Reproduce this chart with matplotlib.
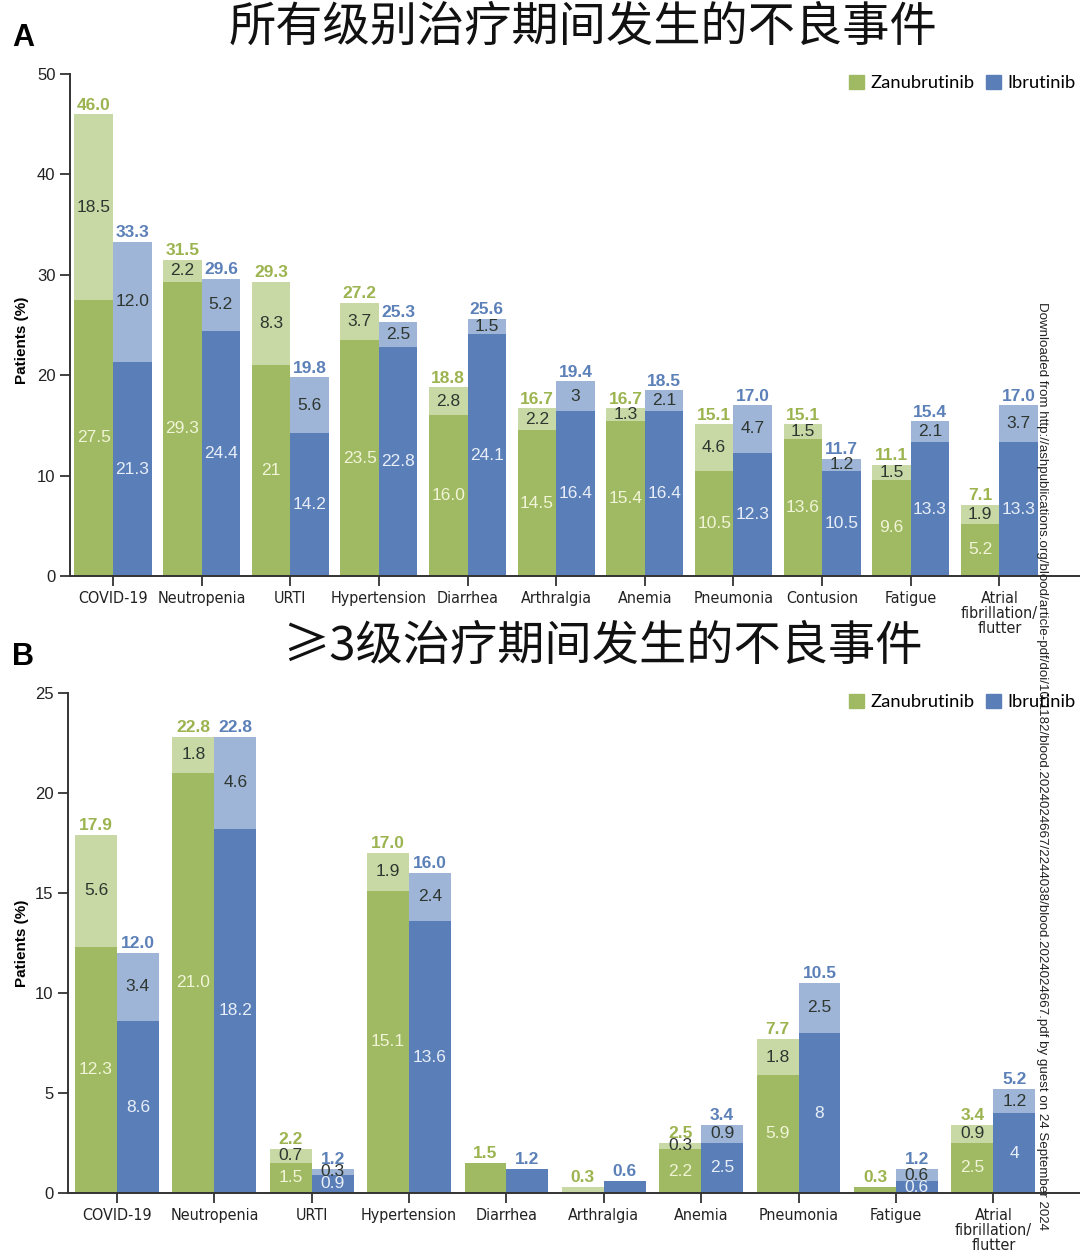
import matplotlib
matplotlib.use("Agg")
import matplotlib.pyplot as plt
from matplotlib.patches import Patch
from matplotlib import font_manager as fm

# ---------------- data ----------------
cats_A = ["COVID-19", "Neutropenia", "URTI", "Hypertension", "Diarrhea", "Arthralgia",
          "Anemia", "Pneumonia", "Contusion", "Fatigue", "Atrial\nfibrillation/\nflutter"]
zan_A_base = [27.5, 29.3, 21, 23.5, 16.0, 14.5, 15.4, 10.5, 13.6, 9.6, 5.2]
zan_A_top = [18.5, 2.2, 8.3, 3.7, 2.8, 2.2, 1.3, 4.6, 1.5, 1.5, 1.9]
zan_A_total = [46.0, 31.5, 29.3, 27.2, 18.8, 16.7, 16.7, 15.1, 15.1, 11.1, 7.1]
ibr_A_base = [21.3, 24.4, 14.2, 22.8, 24.1, 16.4, 16.4, 12.3, 10.5, 13.3, 13.3]
ibr_A_top = [12.0, 5.2, 5.6, 2.5, 1.5, 3, 2.1, 4.7, 1.2, 2.1, 3.7]
ibr_A_total = [33.3, 29.6, 19.8, 25.3, 25.6, 19.4, 18.5, 17.0, 11.7, 15.4, 17.0]

cats_B = ["COVID-19", "Neutropenia", "URTI", "Hypertension", "Diarrhea", "Arthralgia",
          "Anemia", "Pneumonia", "Fatigue", "Atrial\nfibrillation/\nflutter"]
zan_B_base = [12.3, 21.0, 1.5, 15.1, 1.5, 0, 2.2, 5.9, 0.3, 2.5]
zan_B_top = [5.6, 1.8, 0.7, 1.9, 0, 0.3, 0.3, 1.8, 0, 0.9]
zan_B_total = [17.9, 22.8, 2.2, 17.0, 1.5, 0.3, 2.5, 7.7, 0.3, 3.4]
ibr_B_base = [8.6, 18.2, 0.9, 13.6, 1.2, 0.6, 2.5, 8, 0.6, 4]
ibr_B_top = [3.4, 4.6, 0.3, 2.4, 0, 0, 0.9, 2.5, 0.6, 1.2]
ibr_B_total = [12.0, 22.8, 1.2, 16.0, 1.2, 0.6, 3.4, 10.5, 1.2, 5.2]

title_A = "所有级别治疗期间发生的不良事件"
title_B = "≥3级治疗期间发生的不良事件"
watermark = ("Downloaded from http://ashpublications.org/blood/article-pdf/doi/10.1182/"
             "blood.2024024667/2244038/blood.2024024667.pdf by guest on 24 September 2024")

# ---------------- style ----------------
G_DARK, G_LIGHT = "#9fba62", "#c9d9a6"
B_DARK, B_LIGHT = "#5a7fb8", "#9fb5d7"
G_TXT, B_TXT = "#9cb450", "#5c80b8"
IN_G, IN_B = "#f1f4d6", "#e8eef8"
IN_DARK = "#2e3630"

avail = {f.name for f in fm.fontManager.ttflist}

# look for a condensed / narrow sans for the category labels
cond_path = None
prefs = ["DejaVuSansCondensed.ttf", "LiberationSansNarrow-Regular.ttf"]
for p in prefs:
    for f in fm.fontManager.ttflist:
        if f.fname.endswith(p):
            cond_path = f.fname
            break
    if cond_path:
        break
if cond_path is None:
    for f in fm.fontManager.ttflist:
        low = f.fname.lower()
        if ("condensed" in low or "narrow" in low) and "bold" not in low \
                and "italic" not in low and "oblique" not in low and "semi" not in low:
            cond_path = f.fname
            break

if cond_path:
    xprop = fm.FontProperties(fname=cond_path, size=11.5)
else:
    xprop = fm.FontProperties(family="DejaVu Sans", size=9.8)

num_font = "Liberation Sans"
leg_font = "Lato" if "Lato" in avail else "DejaVu Sans"
cjk = ["Noto Sans CJK SC", "DejaVu Sans"]

W, H = 1080, 1254
fig = plt.figure(figsize=(W / 100, H / 100), dpi=100)
fig.patch.set_facecolor("white")


def fmt(v):
    return f"{v}"


def panel(rect, cats, zb, zt, ztot, ib, it, itot, ymax, ystep, xlim, width):
    ax = fig.add_axes(rect)
    n = len(cats)
    xs = list(range(n))
    xz = [x - width / 2 for x in xs]
    xi = [x + width / 2 for x in xs]
    ax.bar(xz, zb, width, color=G_DARK, linewidth=0)
    ax.bar(xz, zt, width, bottom=zb, color=G_LIGHT, linewidth=0)
    ax.bar(xi, ib, width, color=B_DARK, linewidth=0)
    ax.bar(xi, it, width, bottom=ib, color=B_LIGHT, linewidth=0)
    off = ymax * 0.009
    for k in range(n):
        ax.text(xz[k], ztot[k] + off, fmt(ztot[k]), ha="center", va="baseline",
                color=G_TXT, fontsize=12.5, fontweight="bold", family=num_font)
        ax.text(xi[k], itot[k] + off, fmt(itot[k]), ha="center", va="baseline",
                color=B_TXT, fontsize=12.5, fontweight="bold", family=num_font)
        if zb[k] > 0 and zt[k] > 0:
            ax.text(xz[k], zb[k] / 2, fmt(zb[k]), ha="center", va="center",
                    color=IN_G, fontsize=12.5, family=num_font)
            ax.text(xz[k], zb[k] + zt[k] / 2, fmt(zt[k]), ha="center", va="center",
                    color=IN_DARK, fontsize=12.5, family=num_font)
        if ib[k] > 0 and it[k] > 0:
            ax.text(xi[k], ib[k] / 2, fmt(ib[k]), ha="center", va="center",
                    color=IN_B, fontsize=12.5, family=num_font)
            ax.text(xi[k], ib[k] + it[k] / 2, fmt(it[k]), ha="center", va="center",
                    color=IN_DARK, fontsize=12.5, family=num_font)
    ax.set_xlim(*xlim)
    ax.set_ylim(0, ymax)
    ax.set_yticks(list(range(0, ymax + 1, ystep)))
    ax.set_xticks(xs)
    ax.set_xticklabels(cats, fontproperties=xprop, linespacing=1.0, color="#222222")
    for lab in ax.get_yticklabels():
        lab.set_family(num_font)
        lab.set_fontsize(12)
        lab.set_color("#222222")
    ax.tick_params(axis="both", direction="out", length=7, width=1.3, color="#333333")
    ax.tick_params(axis="x", pad=4)
    for s in ("top", "right"):
        ax.spines[s].set_visible(False)
    for s in ("left", "bottom"):
        ax.spines[s].set_color("#333333")
        ax.spines[s].set_linewidth(1.4)
    handles = [Patch(color=G_DARK, label="Zanubrutinib"), Patch(color=B_DARK, label="Ibrutinib")]
    return ax, handles


axA, hA = panel([70 / W, 1 - 576 / H, 1 - 70 / W, 502 / H], cats_A,
                zan_A_base, zan_A_top, zan_A_total, ibr_A_base, ibr_A_top, ibr_A_total,
                50, 10, (-0.485, 10.91), 0.435)
axB, hB = panel([68 / W, 1 - 1193 / H, 1 - 68 / W, 500 / H], cats_B,
                zan_B_base, zan_B_top, zan_B_total, ibr_B_base, ibr_B_top, ibr_B_total,
                25, 5, (-0.503, 9.89), 0.43)

for ax, h, ly in ((axA, hA, 83), (axB, hB, 702)):
    fig.legend(handles=h, loc="center right", bbox_to_anchor=(1.003, 1 - ly / H),
               ncol=2, frameon=False, handlelength=0.85, handleheight=0.85,
               handletextpad=0.35, columnspacing=0.6, borderaxespad=0,
               prop={"family": leg_font, "size": 13.2})

fig.text(583 / W, 1 - 28 / H, title_A, ha="center", va="center", fontsize=34,
         family=cjk, color="#111111")
fig.text(602 / W, 1 - 647 / H, title_B, ha="center", va="center", fontsize=34,
         family=cjk, color="#111111")
fig.text(23 / W, 1 - 38 / H, "A", ha="center", va="center", fontsize=22,
         fontweight="bold", family=num_font)
fig.text(23 / W, 1 - 657 / H, "B", ha="center", va="center", fontsize=22,
         fontweight="bold", family=num_font)
fig.text(22 / W, 1 - 340 / H, "Patients (%)", rotation=90, ha="center", va="center",
         fontsize=11, fontweight="bold", family=num_font)
fig.text(22 / W, 1 - 943 / H, "Patients (%)", rotation=90, ha="center", va="center",
         fontsize=11, fontweight="bold", family=num_font)
fig.text(1042 / W, 1 - 302 / H, watermark, rotation=270, ha="center", va="top",
         fontsize=9.6, family=num_font, color="#222222")

fig.savefig("out.png", dpi=100, facecolor="white")
